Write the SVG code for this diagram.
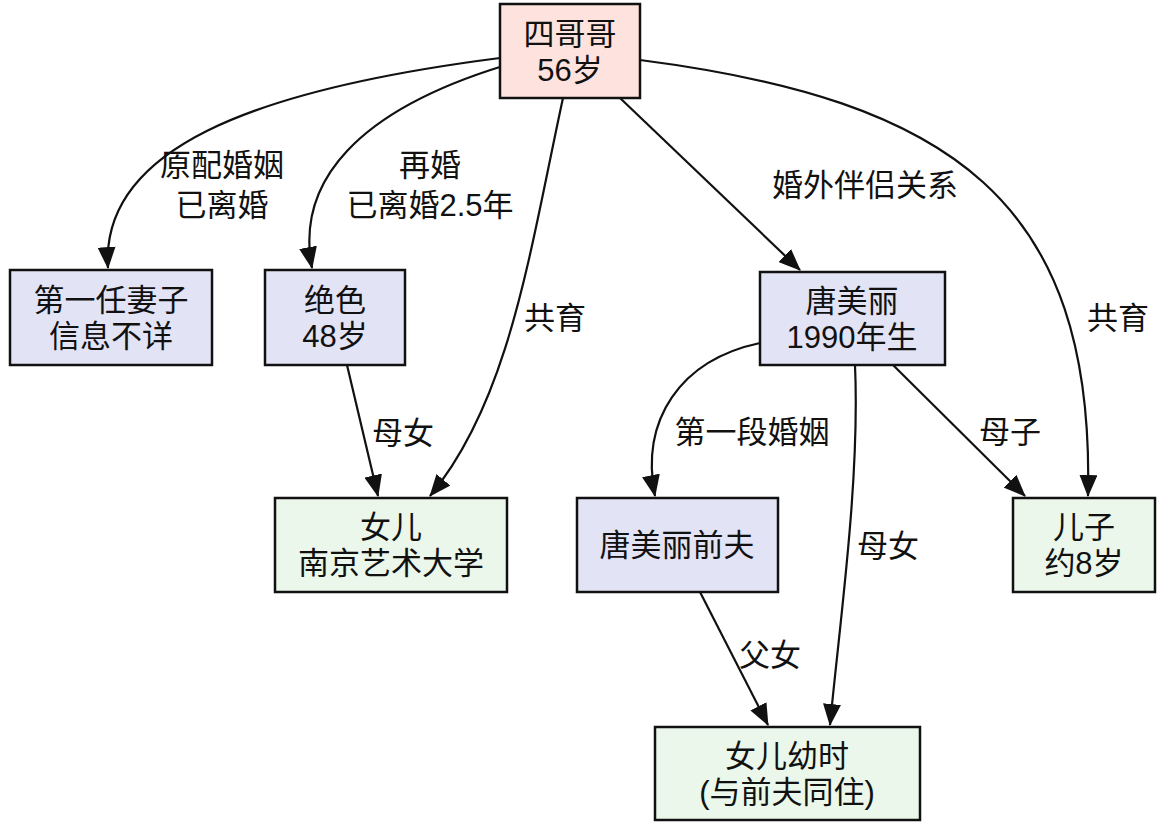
<svg xmlns="http://www.w3.org/2000/svg" width="1170" height="828" viewBox="0 0 1170 828">
<style>
text{font-family:"Liberation Sans","Noto Sans CJK SC",sans-serif;font-size:31px;fill:#111;text-anchor:middle}
.n rect{stroke:#111;stroke-width:2.5}
.p{fill:#fde2de}.l{fill:#e3e3f6}.g{fill:#eaf7ea}
#edges path{fill:none;stroke:#111;stroke-width:2.2;marker-end:url(#a)}
</style>
<defs><marker id="a" viewBox="0 0 22 18" refX="21" refY="9" markerWidth="22" markerHeight="18" markerUnits="userSpaceOnUse" orient="auto"><path d="M0,0L22,9L0,18z" fill="#111"/></marker></defs>
<rect width="1170" height="828" fill="#fff"/>
<g id="edges">
<path d="M500,58C250,90 100,150 108,268"/>
<path d="M503,66C360,110 295,180 312,268"/>
<path d="M563,98C530,250 510,400 430,496"/>
<path d="M620,98L800,270"/>
<path d="M640,60C950,100 1095,200 1088,496"/>
<path d="M347,365L378,496"/>
<path d="M760,343C680,360 640,420 655,496"/>
<path d="M855,365C860,480 840,620 830,725"/>
<path d="M893,365L1025,496"/>
<path d="M700,592L768,725"/>
</g>
<g id="labels">
<text x="222" y="176">原配婚姻</text><text x="222" y="216">已离婚</text>
<text x="430" y="176">再婚</text><text x="430" y="216">已离婚2.5年</text>
<text x="555" y="329">共育</text>
<text x="865" y="196">婚外伴侣关系</text>
<text x="1118" y="329">共育</text>
<text x="403" y="444">母女</text>
<text x="752" y="443">第一段婚姻</text>
<text x="888" y="557">母女</text>
<text x="1010" y="443">母子</text>
<text x="770" y="666">父女</text>
</g>
<g id="n1" class="n"><rect class="p" x="500" y="4" width="140" height="94"/><text x="570" y="45">四哥哥</text><text x="570" y="81">56岁</text></g>
<g id="n2" class="n"><rect class="l" x="10" y="270" width="202" height="95"/><text x="111" y="311">第一任妻子</text><text x="111" y="347">信息不详</text></g>
<g id="n3" class="n"><rect class="l" x="265" y="270" width="140" height="95"/><text x="335" y="311">绝色</text><text x="335" y="347">48岁</text></g>
<g id="n4" class="n"><rect class="l" x="760" y="272" width="185" height="93"/><text x="852" y="312">唐美丽</text><text x="852" y="348">1990年生</text></g>
<g id="n5" class="n"><rect class="g" x="275" y="498" width="232" height="94"/><text x="391" y="538">女儿</text><text x="391" y="574">南京艺术大学</text></g>
<g id="n6" class="n"><rect class="l" x="577" y="498" width="201" height="94"/><text x="677" y="556">唐美丽前夫</text></g>
<g id="n7" class="n"><rect class="g" x="1013" y="498" width="142" height="94"/><text x="1084" y="538">儿子</text><text x="1084" y="574">约8岁</text></g>
<g id="n8" class="n"><rect class="g" x="655" y="727" width="265" height="93"/><text x="787" y="767">女儿幼时</text><text x="787" y="803">(与前夫同住)</text></g>
</svg>
